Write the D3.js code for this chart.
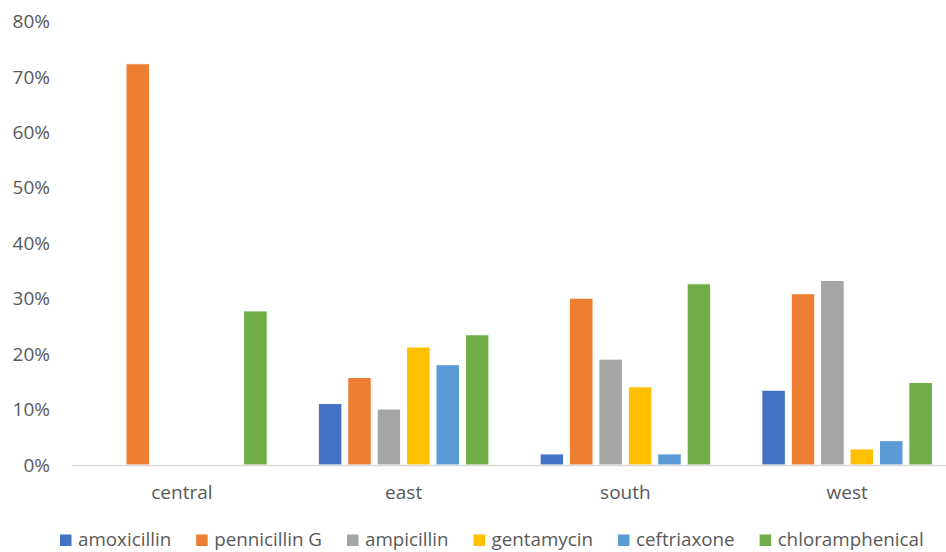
<!DOCTYPE html>
<html>
<head>
<meta charset="utf-8">
<script src="https://cdn.jsdelivr.net/npm/d3@7"></script>
<style>
  body { margin: 0; background: #fff; }
  text { font-family: "Open Sans", sans-serif; fill: #595959; }
</style>
</head>
<body>
<div id="chart"></div>
<script>
// data
var regions = ["central", "east", "south", "west"];
var drugs = ["amoxicillin", "pennicillin G", "ampicillin", "gentamycin", "ceftriaxone", "chloramphenical"];
var colors = ["#4472C4", "#ED7D31", "#A5A5A5", "#FFC000", "#5B9BD5", "#70AD47"];

var amoxicillin = [0, 0.111, 0.02, 0.135];
var penicillinG = [0.724, 0.158, 0.301, 0.309];
var ampicillin = [0, 0.101, 0.191, 0.333];
var gentamycin = [0, 0.213, 0.141, 0.029];
var ceftriaxone = [0, 0.181, 0.02, 0.044];
var chloramphenical = [0.278, 0.235, 0.327, 0.149];

var yTicks = [0, 0.1, 0.2, 0.3, 0.4, 0.5, 0.6, 0.7, 0.8];

var seriesValues = [amoxicillin, penicillinG, ampicillin, gentamycin, ceftriaxone, chloramphenical];

var svgWidth = 946;
var svgHeight = 552;

var svg = d3.select("#chart")
  .append("svg")
  .attr("width", svgWidth)
  .attr("height", svgHeight);

var x0 = d3.scaleBand()
  .domain(regions)
  .range([71, 958])
  .padding(0);

var x1 = d3.scaleBand()
  .domain(drugs)
  .range([0, x0.bandwidth()])
  .paddingInner(0.2)
  .paddingOuter(0.87);

var y = d3.scaleLinear()
  .domain([0, 0.8])
  .range([465, 21.6]);

// y tick labels (no gridlines in the reference)
var yAxis = d3.axisLeft(y)
  .tickValues(yTicks)
  .tickFormat(d3.format(".0%"))
  .tickSize(0)
  .tickPadding(0);

svg.append("g")
  .attr("transform", "translate(50,0)")
  .call(yAxis)
  .call(g => g.select(".domain").remove())
  .selectAll("text")
  .attr("font-size", "19px")
  .attr("font-family", "Open Sans, sans-serif")
  .style("fill", "#595959");

// bars
var rows = [];
regions.forEach(function(r, i) {
  drugs.forEach(function(d, j) {
    rows.push({ region: r, drug: d, value: seriesValues[j][i], color: colors[j] });
  });
});

svg.append("g")
  .selectAll("rect")
  .data(rows.filter(d => d.value > 0))
  .enter()
  .append("rect")
  .attr("x", d => x0(d.region) + x1(d.drug))
  .attr("y", d => y(d.value))
  .attr("width", x1.bandwidth())
  .attr("height", d => y(0) - y(d.value))
  .attr("fill", d => d.color)
  .attr("stroke", "#fff")
  .attr("stroke-width", 1);

// x axis line and category labels
var xAxis = d3.axisBottom(x0)
  .tickSize(0)
  .tickPadding(21);

var xg = svg.append("g")
  .attr("transform", `translate(0, ${y(0)})`)
  .call(xAxis);

xg.select(".domain")
  .attr("stroke", "#D9D9D9")
  .attr("stroke-width", 1.3);

xg.selectAll("text")
  .attr("font-size", "19px")
  .attr("font-family", "Open Sans, sans-serif")
  .style("fill", "#595959");

// legend
var legend = svg.append("g")
  .attr("transform", "translate(60, 546)");

var lx = 0;
drugs.forEach(function(d, i) {
  var item = legend.append("g").attr("transform", `translate(${lx},0)`);
  item.append("rect")
    .attr("x", 0)
    .attr("y", -11.5)
    .attr("width", 11.5)
    .attr("height", 11.5)
    .attr("fill", colors[i]);
  var t = item.append("text")
    .attr("x", 18)
    .attr("y", 0)
    .attr("font-size", "18.8px")
    .text(d);
  lx += 18 + t.node().getComputedTextLength() + 25;
});
</script>
</body>
</html>
